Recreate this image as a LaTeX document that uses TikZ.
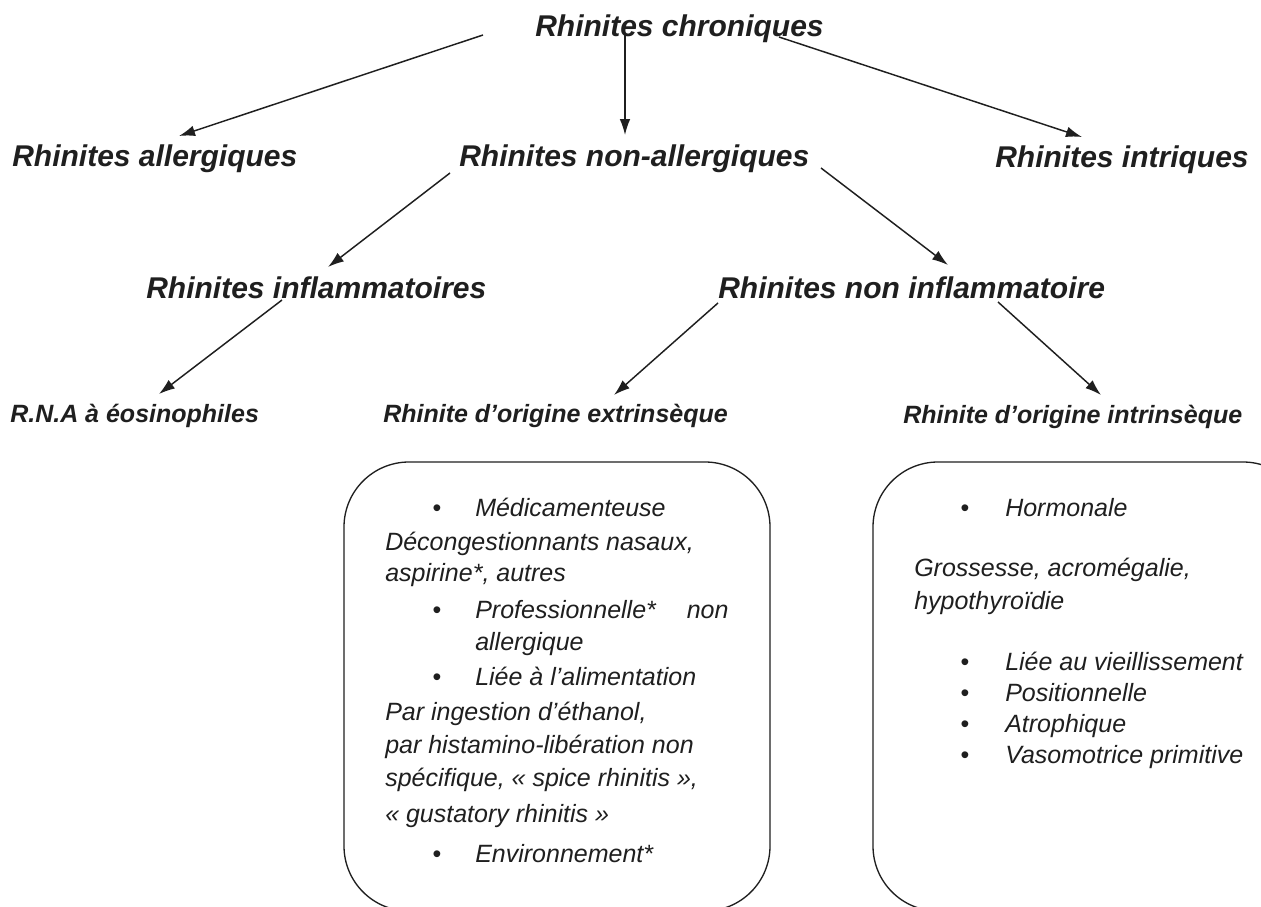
\documentclass[tikz,border=0pt]{standalone}
\usepackage{fontspec}
\setmainfont{Liberation Sans}
\usetikzlibrary{arrows.meta}
\definecolor{ink}{gray}{0.12}
\begin{document}
\begin{tikzpicture}[x=0.75pt,y=-0.75pt,
  big/.style={font=\fontsize{22.5}{27}\selectfont\bfseries\itshape, inner sep=0pt, anchor=base west, text=ink},
  mid/.style={font=\fontsize{18.75}{22}\selectfont\bfseries\itshape, inner sep=0pt, anchor=base west, text=ink},
  item/.style={font=\fontsize{18.75}{22}\selectfont\itshape, inner sep=0pt, anchor=base west, text=ink},
  dot/.style={font=\fontsize{18.75}{22}\selectfont, inner sep=0pt, anchor=base, text=ink},
  link/.style={draw=ink, line width=1.1pt, -{Latex[length=12pt,width=8pt]}},
  panel/.style={draw=ink, line width=1pt, rounded corners=48.75pt}
]
\fill[white] (0,0) rectangle (1261,907);
\useasboundingbox (0,0) rectangle (1261,907);

% level 1-3
\node[big] (chron) at (535,36) {Rhinites chroniques};
\node[big] (allerg) at (12,166) {Rhinites allergiques};
\node[big] (nonall) at (459,166) {Rhinites non-allergiques};
\node[big] (intriq) at (995,167) {Rhinites intriques};
\node[big] (infl) at (146,298) {Rhinites inflammatoires};
\node[big] (noninfl) at (718,298) {Rhinites non inflammatoire};
% level 4
\node[mid] (rna) at (10,422) {R.N.A à éosinophiles};
\node[mid] (extr) at (383,422) {Rhinite d’origine extrinsèque};
\node[mid] (intr) at (903,423) {Rhinite d’origine intrinsèque};

% connectors
\coordinate (a1s) at (483,35);  \coordinate (a1e) at (179,136);
\coordinate (a2s) at (625,33);  \coordinate (a2e) at (625,135);
\coordinate (a3s) at (779,37);  \coordinate (a3e) at (1082,137);
\coordinate (a4s) at (450,173); \coordinate (a4e) at (328,267);
\coordinate (a5s) at (821,168); \coordinate (a5e) at (948,265);
\coordinate (a6s) at (282,300); \coordinate (a6e) at (159,394);
\coordinate (a7s) at (718,303); \coordinate (a7e) at (614,395);
\coordinate (a8s) at (998,302); \coordinate (a8e) at (1101,395);
\draw[link] (a1s) -- (a1e);
\draw[link] (a2s) -- (a2e);
\draw[link] (a3s) -- (a3e);
\draw[link] (a4s) -- (a4e);
\draw[link] (a5s) -- (a5e);
\draw[link] (a6s) -- (a6e);
\draw[link] (a7s) -- (a7e);
\draw[link] (a8s) -- (a8e);

% panels
\draw[panel] (344,462) rectangle (770,911);
\draw[panel] (873,462) rectangle (1308,911);

% left panel text
\node[dot] (b1) at (437,516) {•};
\node[item] (t1) at (475,516) {Médicamenteuse};
\node[item] (t2) at (385,550) {Décongestionnants nasaux,};
\node[item] (t3) at (385,581) {aspirine*, autres};
\node[dot] (b2) at (437,618) {•};
\node[item] (t4) at (475,618) {\makebox[190pt][s]{Professionnelle* non}};
\node[item] (t5) at (475,650) {allergique};
\node[dot] (b3) at (437,685) {•};
\node[item] (t6) at (475,685) {Liée à l’alimentation};
\node[item] (t7) at (385,720) {Par ingestion d’éthanol,};
\node[item] (t8) at (385,753) {par histamino-libération non};
\node[item] (t9) at (385,786) {spécifique, « spice rhinitis »,};
\node[item] (t10) at (385,822) {« gustatory rhinitis »};
\node[dot] (b4) at (437,862) {•};
\node[item] (t11) at (475,862) {Environnement*};

% right panel text
\node[dot] (c1) at (965,516) {•};
\node[item] (u1) at (1005,516) {Hormonale};
\node[item] (u2) at (914,576) {Grossesse, acromégalie,};
\node[item] (u3) at (914,609) {hypothyroïdie};
\node[dot] (c2) at (965,670) {•};
\node[item] (u4) at (1005,670) {Liée au vieillissement};
\node[dot] (c3) at (965,701) {•};
\node[item] (u5) at (1005,701) {Positionnelle};
\node[dot] (c4) at (965,732) {•};
\node[item] (u6) at (1005,732) {Atrophique};
\node[dot] (c5) at (965,763) {•};
\node[item] (u7) at (1005,763) {Vasomotrice primitive};
\end{tikzpicture}
\end{document}
